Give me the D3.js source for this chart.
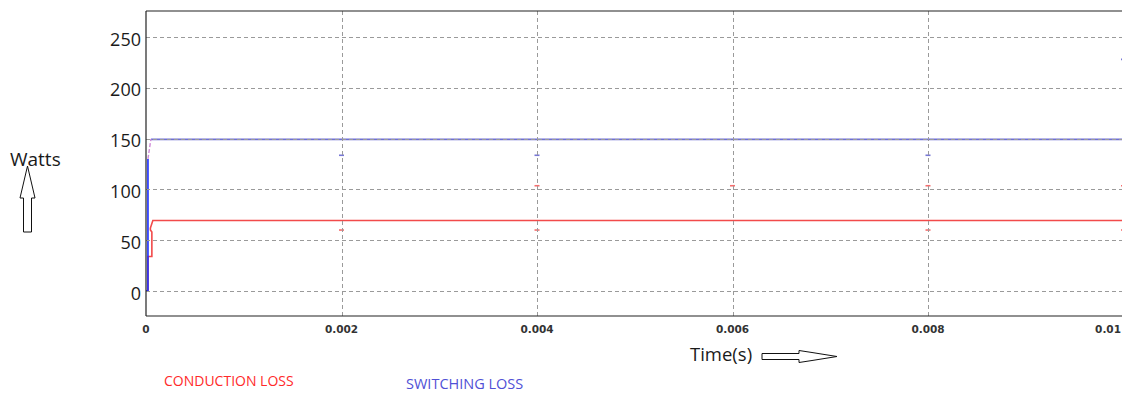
<!DOCTYPE html>
<html>
<head>
<meta charset="utf-8">
<script src="https://cdn.jsdelivr.net/npm/d3@7"></script>
<style>
  html, body { margin: 0; padding: 0; background: #fff; }
  svg { display: block; }
</style>
</head>
<body>
<svg id="chart" width="1122" height="394"></svg>
<script>
// Axis ticks
const yTicks = [0, 50, 100, 150, 200, 250];
const xTicks = [0, 0.002, 0.004, 0.006, 0.008, 0.01];
const xTickLabels = ["0", "0.002", "0.004", "0.006", "0.008", "0.01"];

// Switching loss (W) vs time (s)
const switchTime = [0, 0.00002, 0.00002];
const switchWatts = [0, 0, 130];
// settling ramp after the first step
const switchRampTime = [0.00002, 0.00005];
const switchRampWatts = [130, 149.5];
const switchSteadyTime = [0.00005, 0.0101];
const switchSteadyWatts = [149.2, 149.2];

// Conduction loss (W) vs time (s)
const condTime = [0, 0.00002, 0.00002, 0.00006, 0.00006, 0.000045, 0.000045, 0.00007, 0.0101];
const condWatts = [0, 0, 34, 34, 58, 60, 62, 69.4, 69.4];

// Short switching-event glitches
const glitchTime = [0.002, 0.004, 0.008, 0.01, 0.004, 0.006, 0.008, 0.01, 0.002, 0.004, 0.008, 0.01];
const glitchWatts = [133.6, 133.6, 133.6, 228, 103.6, 103.6, 103.6, 103.6, 60, 60, 60, 60];
const glitchSeries = ["sw", "sw", "sw", "sw", "cd", "cd", "cd", "cd", "cd", "cd", "cd", "cd"];

const svg = d3.select("#chart");
const W = 1122, H = 394;
const plot = { left: 146, top: 11, bottom: 316, right: 1123.5 };

const x = d3.scaleLinear().domain([0, 0.01]).range([plot.left, plot.right]);
const y = d3.scaleLinear().domain([-24.6, 275.6]).range([plot.bottom, plot.top]);

const colors = { sw: "#5656cc", swStep: "#1a2cff", swRamp: "#d08ad8", cd: "#f24a4a" };

svg.append("defs").append("clipPath").attr("id", "plotClip")
  .append("rect").attr("x", plot.left).attr("y", plot.top)
  .attr("width", W - plot.left).attr("height", plot.bottom - plot.top);

const g = svg.append("g").attr("clip-path", "url(#plotClip)");

// Series
const line = (xs, ys) => d3.line()(xs.map((t, i) => [x(t), y(ys[i])]));

g.append("path").attr("d", line(condTime, condWatts))
  .attr("fill", "none").attr("stroke", colors.cd).attr("stroke-width", 1.6);

g.append("path").attr("d", line(switchSteadyTime, switchSteadyWatts))
  .attr("fill", "none").attr("stroke", colors.sw).attr("stroke-width", 1.8).attr("stroke-opacity", 0.85);
g.append("path").attr("d", line(switchRampTime, switchRampWatts))
  .attr("fill", "none").attr("stroke", colors.swRamp).attr("stroke-width", 1.4)
  .attr("stroke-dasharray", "4,2");
g.append("path").attr("d", line(switchTime, switchWatts))
  .attr("fill", "none").attr("stroke", colors.swStep).attr("stroke-width", 1.6);

// Glitch marks
g.selectAll("line.glitch").data(glitchTime).join("line")
  .attr("class", "glitch")
  .attr("x1", t => x(t) - 2.5).attr("x2", t => x(t) + 2.5)
  .attr("y1", (t, i) => y(glitchWatts[i])).attr("y2", (t, i) => y(glitchWatts[i]))
  .attr("stroke", (t, i) => glitchSeries[i] === "sw" ? colors.sw : colors.cd)
  .attr("stroke-width", 1.6).attr("stroke-opacity", 0.8);

// Grid
const grid = svg.append("g").attr("clip-path", "url(#plotClip)")
  .attr("stroke", "#9a9a9a").attr("stroke-width", 1).attr("stroke-dasharray", "4,3");
grid.selectAll("line.h").data(yTicks).join("line").attr("class", "h")
  .attr("x1", plot.left).attr("x2", W)
  .attr("y1", d => Math.round(y(d)) + 0.5).attr("y2", d => Math.round(y(d)) + 0.5);
grid.selectAll("line.v").data(xTicks.slice(1)).join("line").attr("class", "v")
  .attr("x1", d => Math.round(x(d)) + 0.5).attr("x2", d => Math.round(x(d)) + 0.5)
  .attr("y1", plot.top).attr("y2", plot.bottom);

// Frame
const frame = svg.append("g").attr("stroke", "#222").attr("stroke-width", 1.2);
frame.append("line").attr("x1", plot.left).attr("x2", W).attr("y1", plot.top).attr("y2", plot.top);
frame.append("line").attr("x1", plot.left).attr("x2", W).attr("y1", plot.bottom).attr("y2", plot.bottom);
frame.append("line").attr("x1", plot.left).attr("x2", plot.left).attr("y1", plot.top).attr("y2", plot.bottom);

// Y axis labels
svg.append("g").selectAll("text").data(yTicks).join("text")
  .attr("x", 141).attr("y", d => y(d) + 8.5)
  .attr("text-anchor", "end")
  .attr("font-family", "'Open Sans', sans-serif").attr("font-size", 18)
  .attr("fill", "#1a1a1a")
  .text(d => d);

// X axis labels (the last one is kept inside the right edge)
svg.append("g").selectAll("text").data(xTicks).join("text")
  .attr("x", (d, i) => i === xTicks.length - 1 ? W - 1 : x(d)).attr("y", 333)
  .attr("text-anchor", (d, i) => i === xTicks.length - 1 ? "end" : "middle")
  .attr("font-family", "'DejaVu Sans', sans-serif").attr("font-size", 10.5)
  .attr("font-weight", "bold").attr("fill", "#333")
  .text((d, i) => xTickLabels[i]);

// Axis titles with outlined arrows
const font = "'Open Sans', sans-serif";
svg.append("text").attr("x", 10).attr("y", 166)
  .attr("font-family", font).attr("font-size", 19).attr("fill", "#1a1a1a").text("Watts");
svg.append("path")
  .attr("d", "M23.5,232 L23.5,198 L20,198 L27.5,166 L35,198 L31.5,198 L31.5,232 Z")
  .attr("fill", "#fff").attr("stroke", "#111").attr("stroke-width", 1);

svg.append("text").attr("x", 690).attr("y", 361)
  .attr("font-family", font).attr("font-size", 18.5).attr("fill", "#1a1a1a").text("Time(s)");
svg.append("path")
  .attr("d", "M762,353.5 L799,353.5 L799,350.5 L812,352.5 L837,356.5 L812,360.5 L799,362.5 L799,359.5 L762,359.5 Z")
  .attr("fill", "#fff").attr("stroke", "#111").attr("stroke-width", 1);

// Legend labels
svg.append("text").attr("x", 164).attr("y", 385.5)
  .attr("font-family", font).attr("font-size", 14).attr("fill", "#ff2a2a").text("CONDUCTION LOSS");
svg.append("text").attr("x", 406).attr("y", 389)
  .attr("font-family", font).attr("font-size", 14.5).attr("fill", "#5050d6").text("SWITCHING LOSS");
</script>
</body>
</html>
